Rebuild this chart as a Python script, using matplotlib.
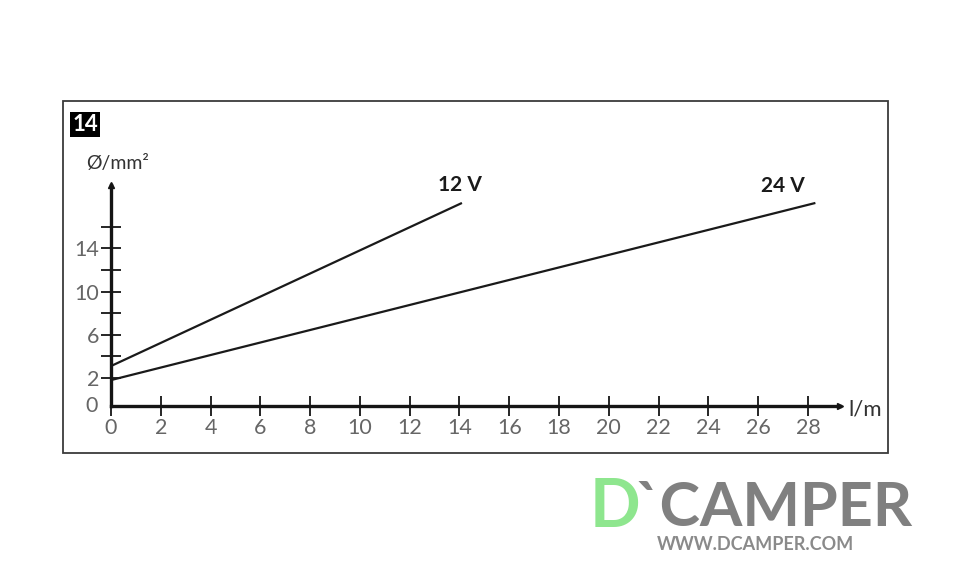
import matplotlib
matplotlib.use('Agg')
import matplotlib.pyplot as plt
from matplotlib.patches import Rectangle

# data
length_12v = [0, 14.1]
area_12v = [3.1, 18.2]
length_24v = [0, 28.3]
area_24v = [1.8, 18.2]
x_ticks = list(range(0, 30, 2))
y_major = [2, 6, 10, 14]
y_minor = [4, 8, 12, 16]

W, H = 959, 566
plt.rcParams['font.family'] = ['Lato', 'DejaVu Sans']

fig = plt.figure(figsize=(W / 100, H / 100), dpi=100)
fig.patch.set_facecolor('white')

# outer frame
fig.patches.append(Rectangle((63 / W, 1 - 453 / H), (888 - 63) / W, (453 - 101) / H,
                             transform=fig.transFigure, fill=False, ec='#3a3a3a', lw=1.3))

# figure number box
fig.patches.append(Rectangle((70 / W, 1 - 137 / H), 30 / W, 25 / H,
                             transform=fig.transFigure, fc='black', ec='none'))
fig.text(85 / W, 1 - 124.5 / H, '14', color='white', fontsize=16, fontweight='bold',
         ha='center', va='center')

# axes: x 0 -> px 111, 24.89 px/unit ; y -0.6 -> px 406, 10.8 px/unit
x0, x1 = 0, 29.3
y0, y1 = -0.6, 19.9
left = 111
right = left + (x1 - x0) * 24.89
bottom = 406
top = bottom - (y1 - y0) * 10.8
ax = fig.add_axes([left / W, 1 - bottom / H, (right - left) / W, (bottom - top) / H])
ax.set_xlim(x0, x1)
ax.set_ylim(y0, y1)
ax.patch.set_alpha(0)
for s in ['top', 'right']:
    ax.spines[s].set_visible(False)
for s in ['left', 'bottom']:
    ax.spines[s].set_linewidth(2.4)
    ax.spines[s].set_color('#151515')
ax.spines['bottom'].set_position(('data', y0))

ax.plot(1, y0, '>', color='#151515', ms=5, transform=ax.get_yaxis_transform(), clip_on=False)
ax.plot(0, 1, '^', color='#151515', ms=5, transform=ax.get_xaxis_transform(), clip_on=False)

ax.set_xticks(x_ticks)
ax.set_xticklabels([str(v) for v in x_ticks])
ax.set_yticks(y_major)
ax.set_yticklabels([str(v) for v in y_major])
ax.set_yticks(y_minor, minor=True)
ax.tick_params(axis='both', which='both', direction='inout', length=15, width=1.3,
               color='#151515', labelsize=15.5, labelcolor='#666666')
ax.tick_params(axis='x', pad=1)
ax.tick_params(axis='y', pad=1)
ax.text(-0.55, y0, '0', ha='right', va='center', fontsize=15.5, color='#666666')

ax.plot(length_12v, area_12v, color='#1a1a1a', lw=1.6, solid_capstyle='butt')
ax.plot(length_24v, area_24v, color='#1a1a1a', lw=1.6, solid_capstyle='butt')

ax.text(14.0, 18.9, '12 V', fontsize=15, fontweight='bold', ha='center', va='bottom',
        color='#1a1a1a')
ax.text(27.0, 18.8, '24 V', fontsize=15, fontweight='bold', ha='center', va='bottom',
        color='#1a1a1a')

fig.text(118 / W, 1 - 163 / H, 'Ø/mm²', fontsize=14, color='#333333', ha='center', va='center')
fig.text(865 / W, 1 - 409 / H, 'l/m', fontsize=16, color='#333333', ha='center', va='center')

# watermark
fig.text(590 / W, 1 - 508 / H, 'D', fontsize=48, fontweight='bold', color='#8ee68e',
         ha='left', va='center')
fig.text(636 / W, 1 - 508 / H, '`CAMPER', fontsize=44, fontweight='bold', color='#808080',
         ha='left', va='center')
fig.text(755 / W, 1 - 545 / H, 'WWW.DCAMPER.COM', fontsize=13, fontweight='bold',
         color='#8a8a8a', ha='center', va='center')

fig.savefig('out.png', dpi=100)
